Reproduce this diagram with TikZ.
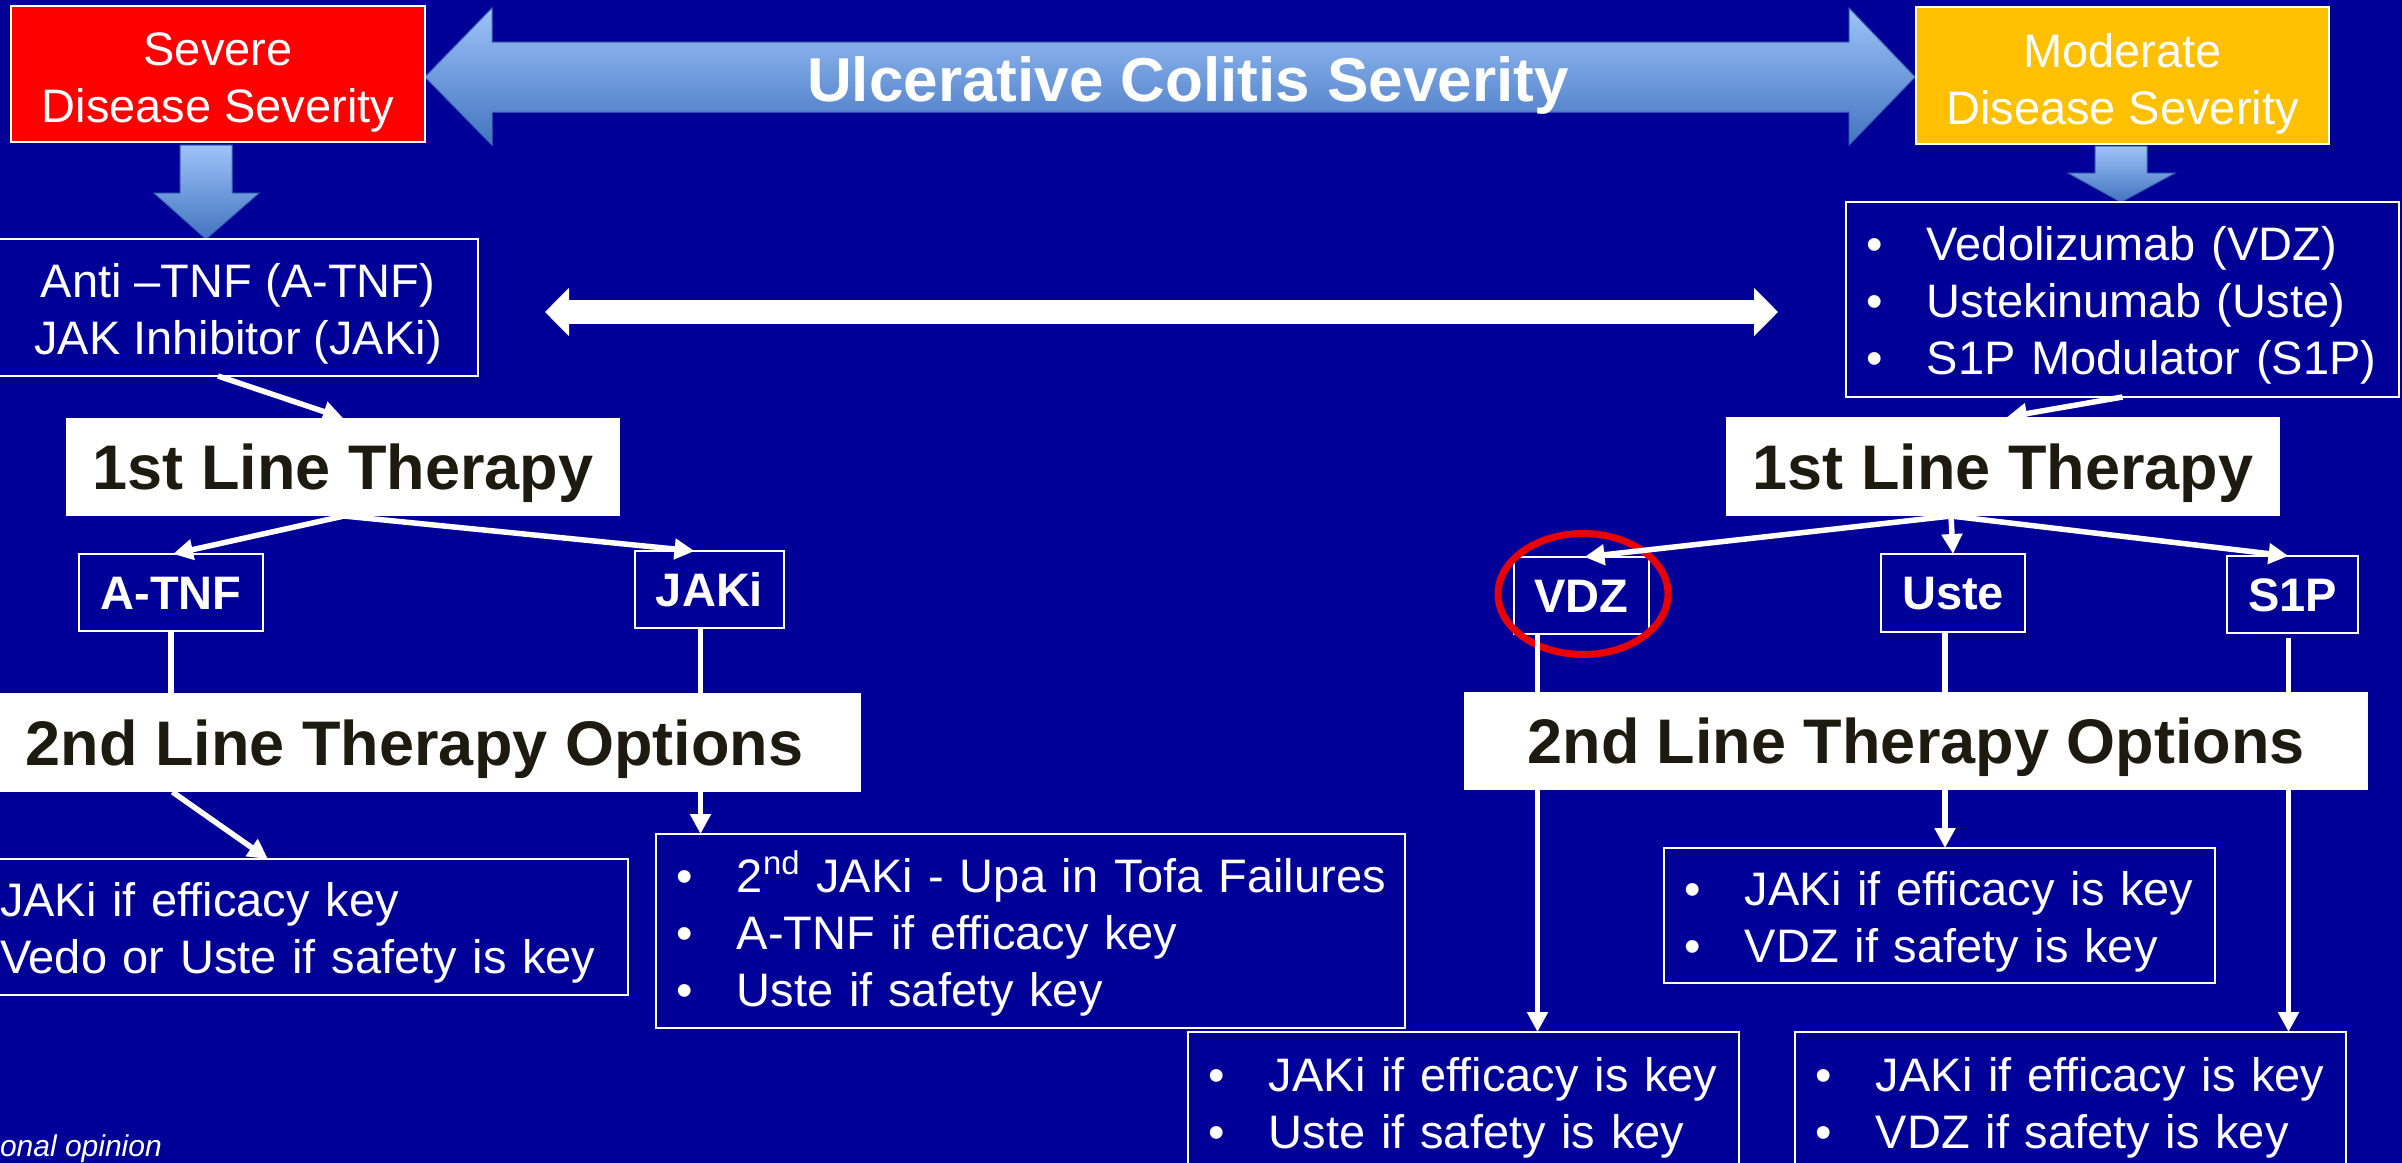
\documentclass[tikz,border=0pt]{standalone}
\usepackage{fontspec}
\setmainfont{Liberation Sans}
\usetikzlibrary{arrows.meta,shapes.geometric,calc}
\definecolor{bg}{RGB}{0,0,153}
\definecolor{sevred}{RGB}{255,0,0}
\definecolor{modorange}{RGB}{255,192,0}
\definecolor{darktxt}{RGB}{29,27,16}
\definecolor{arrtop}{RGB}{158,195,248}
\definecolor{arrbot}{RGB}{66,116,192}
\definecolor{arredge}{RGB}{60,105,180}
\definecolor{ringred}{RGB}{235,0,0}
\newcommand{\bul}{\makebox[30.5pt][l]{•}}
\newcommand{\fstrut}{\rule{0pt}{23.2pt}}
\newcommand{\sstrut}{\rule{0pt}{25pt}}
\begin{document}
\begin{tikzpicture}[x=0.5pt,y=-0.5pt,
  every node/.style={inner sep=0pt, outer sep=0pt},
  body/.style={font=\fontsize{23.5}{28.5}\selectfont, text=white},
  sevbox/.style={draw=white, line width=1pt, rectangle, body, align=center},
  outbox/.style={draw=white, line width=1pt, rectangle, body},
  listbox/.style={outbox, align=left, inner xsep=10pt},
  tagbox/.style={outbox, font=\fontsize{23.5}{28.5}\selectfont\bfseries, text height=16.8pt, text depth=0pt},
  linebox/.style={fill=white, rectangle, text=darktxt, font=\fontsize{31.5}{36}\selectfont\bfseries, text height=22.5pt, text depth=0pt},
  conn/.style={draw=white, line width=2.75pt, -{Triangle[length=10pt,width=10pt]}},
  plain/.style={draw=white, line width=2.75pt},
  blockarrow/.style={top color=arrtop, bottom color=arrbot, draw=arredge, line width=0.5pt},
]
\useasboundingbox (0,0) rectangle (2402,1162);
\clip (0,0) rectangle (2402,1162);
\fill[bg] (-10,-10) rectangle (2412,1172);

% big double block arrow
\path[blockarrow] (425,77) -- (492,8) -- (492,42) -- (1849,42) -- (1849,8) -- (1915,77)
  -- (1849,145) -- (1849,112) -- (492,112) -- (492,145) -- cycle;
% small down block arrows
\path[blockarrow] (180,145) -- (232,145) -- (232,193) -- (259,193) -- (206,239) -- (154,193) -- (180,193) -- cycle;
\path[blockarrow] (2095,146) -- (2147,146) -- (2147,173) -- (2175,173) -- (2121,202) -- (2068,173) -- (2095,173) -- cycle;

% top boxes
\node[sevbox, fill=sevred, minimum width=207pt, minimum height=68pt] (sev) at (218,74) {\sstrut Severe\\Disease Severity};
\node[sevbox, fill=modorange, minimum width=206.5pt, minimum height=68.5pt] (mod) at (2122.5,75.5) {\sstrut Moderate\\Disease Severity};
\node[font=\fontsize{31}{36}\selectfont\bfseries, text=white, text height=22.2pt, text depth=0pt] (title) at (1188,79) {Ulcerative Colitis Severity};

% drug class boxes
\node[outbox, align=center, minimum width=240pt, minimum height=68.5pt] (atnfl) at (238,307.5) {\fstrut Anti –TNF (A-TNF)\\JAK Inhibitor (JAKi)};
\node[listbox, text width=256.5pt, minimum height=97.5pt] (vdzl) at (2122.5,299.5) {\mbox{\fstrut\bul Vedolizumab (VDZ)}\\\mbox{\bul Ustekinumab (Uste)}\\\mbox{\bul S1P Modulator (S1P)}};

% white double arrow
\coordinate (wa1) at (545,312);
\coordinate (wa2) at (1778,312);
\draw[white, line width=12pt, {Triangle[length=12pt,width=23.5pt]}-{Triangle[length=12pt,width=23.5pt]}] (wa1) -- (wa2);

% therapy line boxes
\node[linebox, minimum width=277pt, minimum height=49pt] (L1) at (343,467) {1st Line Therapy};
\node[linebox, minimum width=277pt, minimum height=49.5pt] (R1) at (2003,466.5) {1st Line Therapy};
\node[linebox, minimum width=446.5pt, minimum height=49.5pt] (L2) at (414.5,742.5) {2nd Line Therapy Options};
\node[linebox, minimum width=452pt, minimum height=49pt] (R2) at (1916,741) {2nd Line Therapy Options};

% tags
\node[tagbox, minimum width=92pt, minimum height=38.5pt] (atnf) at (171,592.5) {A-TNF};
\node[tagbox, minimum width=74.5pt, minimum height=38.5pt] (jaki) at (709.5,589.5) {JAKi};
\node[tagbox, minimum width=67.5pt, minimum height=38.5pt] (vdz) at (1581.5,595.5) {VDZ};
\node[tagbox, minimum width=72pt, minimum height=39pt] (uste) at (1953,593) {Uste};
\node[tagbox, minimum width=65.5pt, minimum height=38.5pt] (s1p) at (2292.5,594.5) {S1P};
\node[ellipse, draw=ringred, line width=3.5pt, minimum width=85pt, minimum height=60.5pt] (ring) at (1583,594) {};

% second-line option boxes
\node[outbox, align=left, text width=299pt, inner xsep=15pt, minimum height=68pt] (leftb) at (299,927) {\mbox{\fstrut JAKi if efficacy key}\\\mbox{Vedo or Uste if safety is key}};
\node[listbox, text width=354.5pt, minimum height=97pt] (jakil) at (1030.5,931) {\mbox{\fstrut\bul 2\textsuperscript{nd} JAKi - Upa in Tofa Failures}\\\mbox{\bul A-TNF if efficacy key}\\\mbox{\bul Uste if safety key}};
\node[listbox, text width=255.5pt, minimum height=67.5pt] (ustl) at (1939.5,915.5) {\mbox{\fstrut\bul JAKi if efficacy is key}\\\mbox{\bul VDZ if safety is key}};
\node[listbox, text width=255.5pt, minimum height=69.5pt] (vdzb) at (1463.5,1101.5) {\mbox{\fstrut\bul JAKi if efficacy is key}\\\mbox{\bul Uste if safety is key}};
\node[listbox, text width=255.5pt, minimum height=69.5pt] (s1pb) at (2070.5,1101.5) {\mbox{\fstrut\bul JAKi if efficacy is key}\\\mbox{\bul VDZ if safety is key}};

\node[anchor=base west, font=\fontsize{15}{18}\selectfont\itshape, text=white] (note) at (0,1156) {onal opinion};

% connectors, left
\draw[conn] ($(atnfl.south)+(-20,0)$) -- (L1.north);
\coordinate (l1s) at ($(L1.south)+(1,0)$);
\draw[conn] (l1s) -- ($(atnf.north)+(2,0)$);
\draw[conn] (l1s) -- ($(jaki.north)+(-15,0)$);
\draw[plain] (atnf.south) -- (atnf.south |- L2.north);
\coordinate (j2) at ($(jaki.south)+(-9,0)$);
\draw[plain] (j2) -- (j2 |- L2.north);
\draw[conn] ($(L2.south)+(-242,0)$) -- ($(leftb.north)+(-31,0)$);
\draw[conn] (j2 |- L2.south) -- (j2 |- jakil.north);

% connectors, right
\draw[conn] (vdzl.south) -- ($(R1.north)+(4,0)$);
\coordinate (r1s) at ($(R1.south)+(-52,0)$);
\draw[conn] (r1s) -- ($(vdz.north)+(3,0)$);
\draw[conn] (r1s) -- (uste.north);
\draw[conn] (r1s) -- ($(s1p.north)+(-4,0)$);
\coordinate (v1) at ($(vdz.south)+(-44,0)$);
\coordinate (u1) at ($(uste.south)+(-8,0)$);
\coordinate (s1) at ($(s1p.south)+(-4,5)$);
\draw[plain] (v1) -- (v1 |- R2.north);
\draw[plain] (u1) -- (u1 |- R2.north);
\draw[plain] (s1) -- (s1 |- R2.north);
\draw[conn] (v1 |- R2.south) -- (v1 |- vdzb.north);
\draw[conn] (u1 |- R2.south) -- (u1 |- ustl.north);
\draw[conn] (s1 |- R2.south) -- (s1 |- s1pb.north);
\end{tikzpicture}
\end{document}
